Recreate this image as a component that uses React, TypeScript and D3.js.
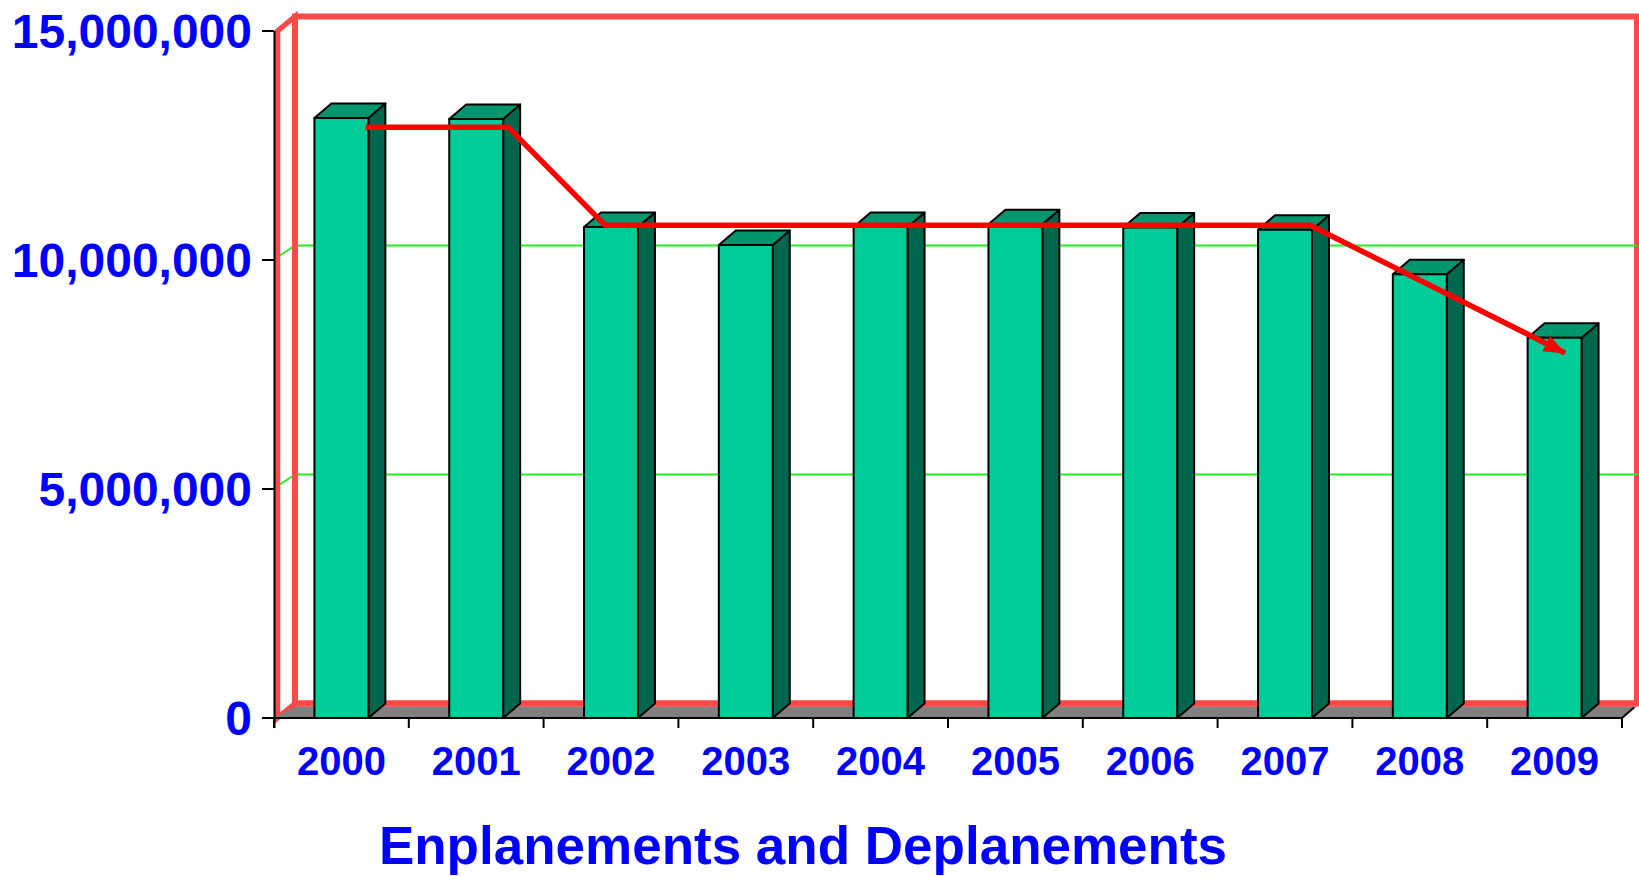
import React from "react";
import * as d3 from "d3";

const years = ["2000", "2001", "2002", "2003", "2004", "2005", "2006", "2007", "2008", "2009"];
const passengers = [13.1e6, 13.08e6, 10.72e6, 10.33e6, 10.72e6, 10.78e6, 10.71e6, 10.66e6, 9.69e6, 8.3e6];
const yTicks = [0, 5e6, 10e6, 15e6];
const trendPos = [0.18, 1.236, 1.956, 7.185, 9.077];
const trendValues = [12.9e6, 12.9e6, 10.76e6, 10.76e6, 7.97e6];
const title = "Enplanements and Deplanements";

const W = 1639;
const H = 876;
const FONT = "'Liberation Sans', Arial, Helvetica, sans-serif";
const BLUE = "#0000FF";
const WALL_RED = "#FF4848";

export default function App() {
  const x = d3.scaleBand<string>().domain(years).range([274, 1622]).padding(0);
  const y = d3.scaleLinear().domain([0, 15e6]).range([718, 31]);
  const bw = x.bandwidth();
  const wallDx = 21;
  const wallDy = -14.5;
  const barDx = 17;
  const barDy = -14.5;
  const barW = bw * 0.4;
  const x0 = x.range()[0];
  const x1 = x.range()[1];
  const y0 = y(0);
  const yTop = y(15e6);
  const backRight = 1637;

  const trendX = (p: number) => x0 + (p + 0.5) * bw;
  const trendLine = d3
    .line<number>()
    .x((_, i) => trendX(trendPos[i]))
    .y((d) => y(d));

  const fmt = d3.format(",");

  return (
    <svg
      width={W}
      height={H}
      style={{ position: "absolute", left: 0, top: 0, background: "#fff" }}
    >
      <defs>
        <marker
          id="arrow"
          markerUnits="userSpaceOnUse"
          markerWidth={24}
          markerHeight={20}
          refX={21}
          refY={10}
          orient="auto"
        >
          <path d="M0,1.5 L22,10 L0,18.5 Z" fill="#FF0000" />
        </marker>
      </defs>

      {/* back wall */}
      <rect
        x={x0 + wallDx}
        y={yTop + wallDy}
        width={backRight - (x0 + wallDx)}
        height={y0 - yTop}
        fill="#fff"
        stroke={WALL_RED}
        strokeWidth={6}
      />
      {/* gridlines on back wall and side wall */}
      {yTicks
        .filter((t) => t > 0 && t < 15e6)
        .map((t) => (
          <g key={"g" + t}>
            <line
              x1={x0 + wallDx}
              x2={backRight}
              y1={y(t) + wallDy}
              y2={y(t) + wallDy}
              stroke="#22EE22"
              strokeWidth={1.8}
            />
            <line
              x1={x0 + 2}
              x2={x0 + wallDx}
              y1={y(t) - 2}
              y2={y(t) + wallDy}
              stroke="#22EE22"
              strokeWidth={1.8}
            />
          </g>
        ))}
      {/* side wall */}
      <polygon
        points={`${x0 + 3.5},${yTop} ${x0 + wallDx},${yTop + wallDy} ${x0 + wallDx},${y0 + wallDy} ${x0 + 3.5},${y0}`}
        fill="none"
        stroke={WALL_RED}
        strokeWidth={5.5}
      />
      {/* floor */}
      <polygon
        points={`${x0},${y0} ${x1},${y0} ${backRight},${y0 + wallDy + 3} ${x0 + wallDx},${y0 + wallDy + 3}`}
        fill="#808080"
        stroke="none"
      />
      <line
        x1={x0 + wallDx}
        x2={backRight}
        y1={y0 + wallDy}
        y2={y0 + wallDy}
        stroke={WALL_RED}
        strokeWidth={6}
      />
      <line x1={x1} y1={y0} x2={backRight - 3} y2={y0 + wallDy + 4} stroke="#000" strokeWidth={2} />

      {/* bars */}
      {years.map((yr, i) => {
        const cx = (x(yr) as number) + bw / 2;
        const l = cx - barW / 2;
        const r = cx + barW / 2;
        const t = y(passengers[i]);
        const b = y0;
        return (
          <g key={yr} stroke="#000" strokeWidth={2} strokeLinejoin="round">
            <polygon
              points={`${r},${t} ${r + barDx},${t + barDy} ${r + barDx},${b + barDy} ${r},${b}`}
              fill="#00664D"
            />
            <polygon
              points={`${l},${t} ${l + barDx},${t + barDy} ${r + barDx},${t + barDy} ${r},${t}`}
              fill="#00976F"
            />
            <rect x={l} y={t} width={barW} height={b - t} fill="#00CC99" />
          </g>
        );
      })}

      {/* trend arrow */}
      <path
        d={trendLine(trendValues) || ""}
        fill="none"
        stroke="#FF0000"
        strokeWidth={5.5}
        strokeLinejoin="miter"
        markerEnd="url(#arrow)"
      />

      {/* axes */}
      <line x1={x0 + 0.5} x2={x0 + 0.5} y1={yTop} y2={y0 + 10} stroke="#000" strokeWidth={2} />
      <line x1={x0 - 12} x2={x1} y1={y0} y2={y0} stroke="#000" strokeWidth={2} />
      {yTicks.map((t) => (
        <line key={"yt" + t} x1={x0 - 12} x2={x0} y1={y(t)} y2={y(t)} stroke="#000" strokeWidth={2} />
      ))}
      {d3.range(years.length + 1).map((k) => (
        <line
          key={"xt" + k}
          x1={x0 + k * bw}
          x2={x0 + k * bw}
          y1={y0}
          y2={y0 + 10}
          stroke="#000"
          strokeWidth={2}
        />
      ))}

      {/* y labels */}
      {yTicks.map((t) => (
        <text
          key={"yl" + t}
          x={252}
          y={y(t) + 17}
          textAnchor="end"
          fontFamily={FONT}
          fontWeight="bold"
          fontSize={48}
          fill={BLUE}
        >
          {fmt(t)}
        </text>
      ))}

      {/* x labels */}
      {years.map((yr) => (
        <text
          key={"xl" + yr}
          x={(x(yr) as number) + bw / 2}
          y={775}
          textAnchor="middle"
          fontFamily={FONT}
          fontWeight="bold"
          fontSize={40}
          fill={BLUE}
        >
          {yr}
        </text>
      ))}

      {/* title */}
      <text
        x={803}
        y={864}
        textAnchor="middle"
        fontFamily={FONT}
        fontWeight="bold"
        fontSize={53}
        fill={BLUE}
      >
        {title}
      </text>
    </svg>
  );
}
